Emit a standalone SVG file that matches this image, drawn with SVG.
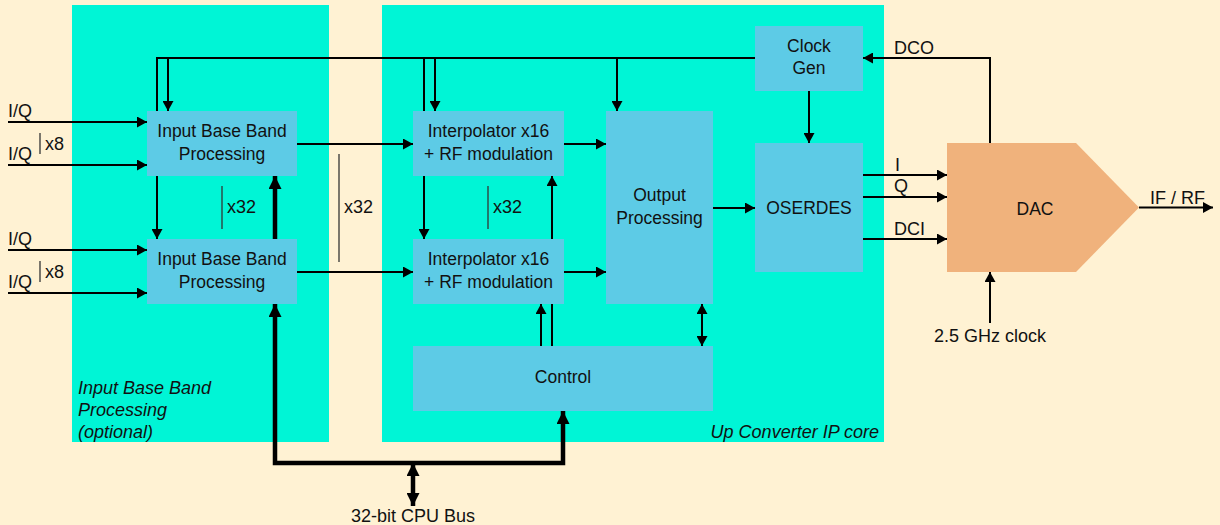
<svg xmlns="http://www.w3.org/2000/svg" width="1220" height="525" viewBox="0 0 1220 525">
<defs>
<style>
text{font-family:"Liberation Sans",Arial,sans-serif;fill:#111;}
.b{font-size:17.5px;text-anchor:middle;}
.l{font-size:18px;}
.i{font-size:18px;font-style:italic;}
.blk{fill:#5DCBE6;}
.w{stroke:#000;stroke-width:2;fill:none;}
.t{stroke:#000;stroke-width:4.5;fill:none;}
.bar{stroke:#333;stroke-width:1.3;}
</style>
<marker id="a" markerWidth="10" markerHeight="11" refX="10" refY="5.5" orient="auto" markerUnits="userSpaceOnUse"><path d="M0,0 L10,5.5 L0,11 z" fill="#000"/></marker>
<marker id="as" markerWidth="10" markerHeight="11" refX="10" refY="5.5" orient="auto-start-reverse" markerUnits="userSpaceOnUse"><path d="M0,0 L10,5.5 L0,11 z" fill="#000"/></marker>
<marker id="ta" markerWidth="13" markerHeight="13" refX="13" refY="6.5" orient="auto" markerUnits="userSpaceOnUse"><path d="M0,0 L13,6.5 L0,13 z" fill="#000"/></marker>
<marker id="tas" markerWidth="13" markerHeight="13" refX="13" refY="6.5" orient="auto-start-reverse" markerUnits="userSpaceOnUse"><path d="M0,0 L13,6.5 L0,13 z" fill="#000"/></marker>
</defs>
<rect width="1220" height="525" fill="#FFF2D3"/>
<g id="panel-ibb">
<rect x="72" y="5" width="257" height="437" fill="#00F5D6"/>
<text class="i" x="78" y="394">Input Base Band</text>
<text class="i" x="78" y="416">Processing</text>
<text class="i" x="78" y="438">(optional)</text>
</g>
<g id="panel-upc">
<rect x="382" y="5" width="502" height="437" fill="#00F5D6"/>
<text class="i" x="879" y="438" text-anchor="end">Up Converter IP core</text>
</g>
<g id="ibb1"><rect class="blk" x="147" y="111" width="150" height="65"/><text class="b" x="222" y="137">Input Base Band</text><text class="b" x="222" y="160">Processing</text></g>
<g id="ibb2"><rect class="blk" x="147" y="239" width="150" height="65"/><text class="b" x="222" y="265">Input Base Band</text><text class="b" x="222" y="288">Processing</text></g>
<g id="interp1"><rect class="blk" x="413" y="111" width="151" height="65"/><text class="b" x="488.5" y="137">Interpolator x16</text><text class="b" x="488.5" y="160">+ RF modulation</text></g>
<g id="interp2"><rect class="blk" x="413" y="239" width="151" height="65"/><text class="b" x="488.5" y="265">Interpolator x16</text><text class="b" x="488.5" y="288">+ RF modulation</text></g>
<g id="output"><rect class="blk" x="606" y="111" width="107" height="193"/><text class="b" x="659.5" y="201">Output</text><text class="b" x="659.5" y="224">Processing</text></g>
<g id="clockgen"><rect class="blk" x="755" y="26" width="108" height="65"/><text class="b" x="809" y="52">Clock</text><text class="b" x="809" y="74">Gen</text></g>
<g id="oserdes"><rect class="blk" x="755" y="143" width="108" height="129"/><text class="b" x="809" y="214">OSERDES</text></g>
<g id="control"><rect class="blk" x="413" y="346" width="300" height="65"/><text class="b" x="563" y="383">Control</text></g>
<g id="dac"><path d="M947,143 L1076,143 L1139,207.5 L1076,272 L947,272 Z" fill="#F0B27C"/><text class="b" x="1035" y="215">DAC</text></g>
<g id="connectors">
<path class="w" d="M8,122 H147" marker-end="url(#a)"/>
<path class="w" d="M8,165 H147" marker-end="url(#a)"/>
<path class="w" d="M8,250 H147" marker-end="url(#a)"/>
<path class="w" d="M8,293 H147" marker-end="url(#a)"/>
<path class="w" d="M755,58 H157 V111"/>
<path class="w" d="M168,58 V111" marker-end="url(#a)"/>
<path class="w" d="M424,58 V111"/>
<path class="w" d="M435,58 V111" marker-end="url(#a)"/>
<path class="w" d="M617,58 V111" marker-end="url(#a)"/>
<path class="w" d="M157,176 V239" marker-end="url(#a)"/>
<path class="w" d="M424,176 V239" marker-end="url(#a)"/>
<path class="w" d="M297,144 H413" marker-end="url(#a)"/>
<path class="w" d="M297,272 H413" marker-end="url(#a)"/>
<path class="w" d="M564,144 H606" marker-end="url(#a)"/>
<path class="w" d="M564,272 H606" marker-end="url(#a)"/>
<path class="w" d="M713,208 H755" marker-end="url(#a)"/>
<path class="w" d="M809,91 V143" marker-end="url(#a)"/>
<path class="w" d="M863,175 H947" marker-end="url(#a)"/>
<path class="w" d="M863,197 H947" marker-end="url(#a)"/>
<path class="w" d="M863,239 H947" marker-end="url(#a)"/>
<path class="w" d="M990,143 V58 H863" marker-end="url(#a)"/>
<path class="w" d="M1139,207.5 H1213" marker-end="url(#a)"/>
<path class="w" d="M990,323 V272" marker-end="url(#a)"/>
<path class="w" d="M541,346 V304" marker-end="url(#a)"/>
<path class="w" d="M552,346 V304"/>
<path class="w" d="M552,239 V176" marker-end="url(#a)"/>
<path class="w" d="M702,304 V346" marker-start="url(#as)" marker-end="url(#as)"/>
<path class="t" d="M275,239 V176" marker-end="url(#ta)"/>
<path class="t" d="M275,304 V463 H563 V411" marker-start="url(#tas)" marker-end="url(#ta)"/>
<path class="t" d="M413,463 V506" marker-start="url(#tas)" marker-end="url(#tas)"/>
</g>
<g id="labels">
<text class="l" x="8" y="117">I/Q</text>
<text class="l" x="8" y="160">I/Q</text>
<text class="l" x="8" y="245">I/Q</text>
<text class="l" x="8" y="288">I/Q</text>
<line class="bar" x1="40" y1="133" x2="40" y2="154"/><text class="l" x="45" y="150">x8</text>
<line class="bar" x1="40" y1="261" x2="40" y2="282"/><text class="l" x="45" y="278">x8</text>
<line class="bar" x1="222" y1="186" x2="222" y2="229"/><text class="l" x="227" y="213">x32</text>
<line class="bar" x1="339" y1="154" x2="339" y2="262"/><text class="l" x="344" y="213">x32</text>
<line class="bar" x1="488" y1="186" x2="488" y2="229"/><text class="l" x="493" y="213">x32</text>
<text class="l" x="894" y="54">DCO</text>
<text class="l" x="895" y="171">I</text>
<text class="l" x="894" y="192">Q</text>
<text class="l" x="894" y="235">DCI</text>
<text class="l" x="1150" y="204">IF / RF</text>
<text class="l" x="990" y="342" text-anchor="middle">2.5 GHz clock</text>
<text class="l" x="413" y="522" text-anchor="middle">32-bit CPU Bus</text>
</g>
</svg>
